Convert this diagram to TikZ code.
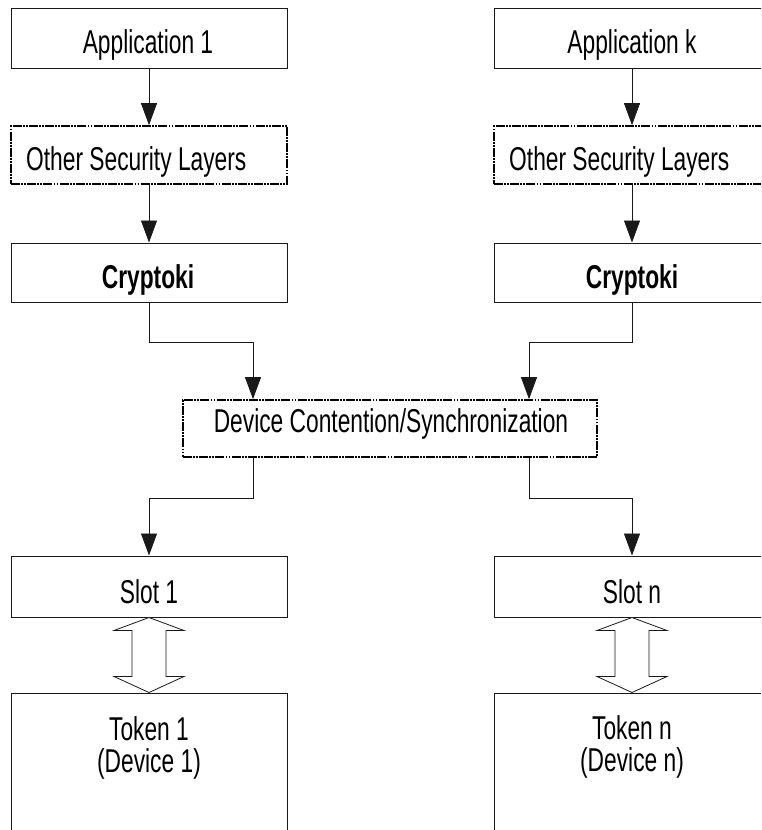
\documentclass[tikz,border=0pt]{standalone}
\usepackage{fontspec}
\setmainfont{Liberation Sans}[FakeStretch=0.69]
\usetikzlibrary{arrows.meta,calc}
\begin{document}
\begin{tikzpicture}[x=1pt,y=-1pt,
  box/.style={draw=black!90,line width=1pt,minimum width=276pt,inner sep=0pt},
  dbox/.style={draw=black,line width=1.7pt,inner sep=0pt,
    dash pattern=on 9pt off 1.2pt on 1.8pt off 1.2pt on 1.8pt off 1.2pt},
  lbl/.style={anchor=base,inner sep=0pt,font=\fontsize{33}{33}\selectfont},
  arr/.style={draw=black!90,line width=0.8pt,-{Triangle[length=22pt,width=16pt]}},
  dbl/.style={draw=black!90,line width=0.8pt,fill=white}]
\useasboundingbox (0,0) rectangle (761,830);
\clip (0,0) rectangle (761,830);
\fill[white] (0,0) rectangle (761,830);
% left column
\node[box,minimum height=60pt] (app1) at (149,38) {};
\node[dbox,minimum width=276pt,minimum height=58pt] (osl1) at (149,155) {};
\node[box,minimum height=59pt] (cry1) at (149,272.5) {};
\node[box,minimum height=61pt] (slot1) at (149,586.5) {};
\node[box,minimum height=200pt] (tok1) at (149,793) {};
% right column
\node[box,minimum height=60pt] (appk) at (632,38) {};
\node[dbox,minimum width=276pt,minimum height=58pt] (oslk) at (632,155) {};
\node[box,minimum height=59pt] (cryk) at (632,272.5) {};
\node[box,minimum height=61pt] (slotn) at (632,586.5) {};
\node[box,minimum height=200pt] (tokn) at (632,793) {};
% middle
\node[dbox,minimum width=414pt,minimum height=57pt] (dcs) at (390,428.5) {};
% texts
\node[lbl] (t1) at (148,53) {Application 1};
\node[lbl] (t2) at (632,53) {Application k};
\node[lbl,anchor=base west] (t3) at (26,170) {Other Security Layers};
\node[lbl,anchor=base west] (t4) at (509,170) {Other Security Layers};
\node[lbl,font=\fontsize{33}{33}\selectfont\bfseries] (t5) at (148,288) {Cryptoki};
\node[lbl,font=\fontsize{33}{33}\selectfont\bfseries] (t6) at (632,288) {Cryptoki};
\node[lbl] (t7) at (391,432) {Device Contention/Synchronization};
\node[lbl] (t8) at (149,603) {Slot 1};
\node[lbl] (t9) at (632,603) {Slot n};
\node[lbl] (t10) at (149,740) {Token 1};
\node[lbl] (t11) at (149,772) {(Device 1)};
\node[lbl] (t12) at (632,739) {Token n};
\node[lbl] (t13) at (632,771) {(Device n)};
% arrows
\draw[arr] (app1.south) -- (osl1.north);
\draw[arr] (osl1.south) -- (cry1.north);
\draw[arr] (appk.south) -- (oslk.north);
\draw[arr] (oslk.south) -- (cryk.north);
\draw[arr] (cry1.south) -- ++(0,40) -| ([xshift=-137pt]dcs.north);
\draw[arr] (cryk.south) -- ++(0,40) -| ([xshift=139pt]dcs.north);
\draw[arr] ([xshift=-137pt]dcs.south) -- ++(0,41) -| (slot1.north);
\draw[arr] ([xshift=139pt]dcs.south) -- ++(0,41) -| (slotn.north);
% double arrows
\draw[dbl] (slot1.south) -- ++(35,13) -- ++(-18,0) -- ([xshift=17pt,yshift=16pt]tok1.north)
  -- ++(18,0) -- (tok1.north) -- ++(-35,-16) -- ++(18,0)
  -- ([xshift=-17pt,yshift=-13pt]slot1.south) -- ++(-18,0) -- cycle;
\draw[dbl] (slotn.south) -- ++(35,13) -- ++(-18,0) -- ([xshift=17pt,yshift=16pt]tokn.north)
  -- ++(18,0) -- (tokn.north) -- ++(-35,-16) -- ++(18,0)
  -- ([xshift=-17pt,yshift=-13pt]slotn.south) -- ++(-18,0) -- cycle;
\end{tikzpicture}
\end{document}
